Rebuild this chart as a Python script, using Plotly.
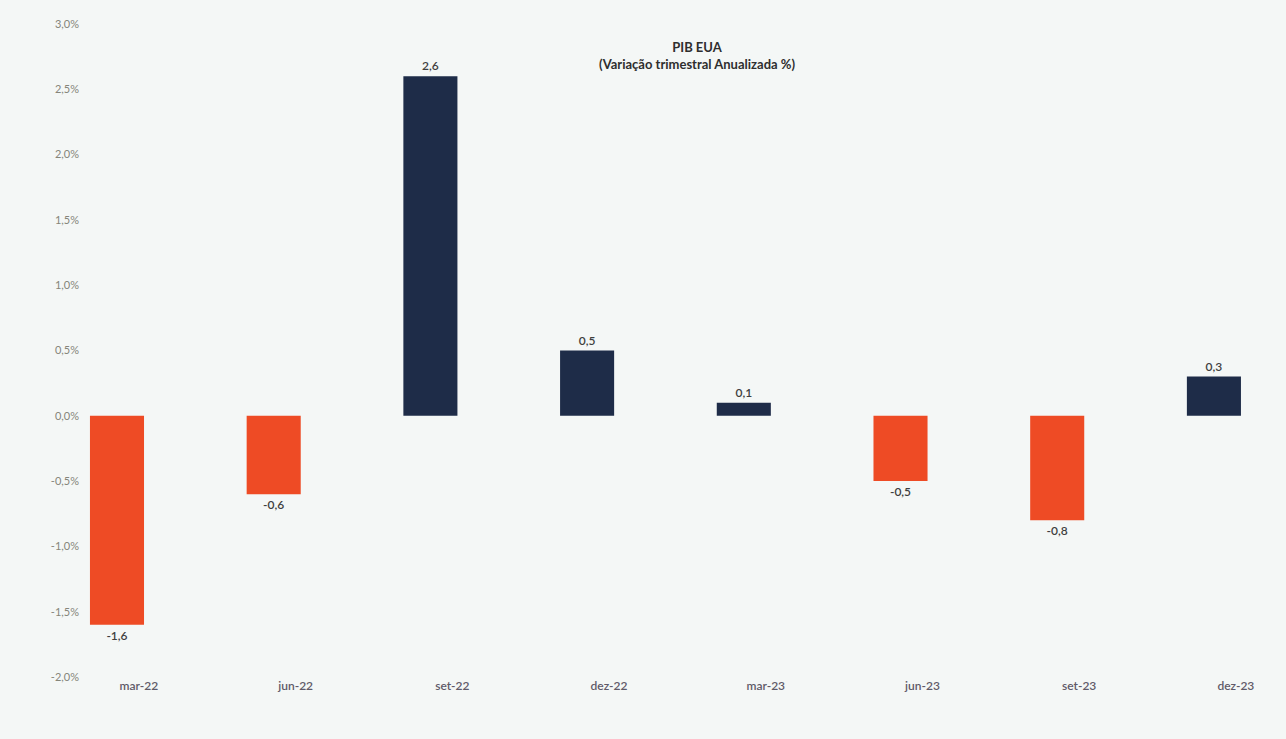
import plotly.graph_objects as go

categories = ["mar-22", "jun-22", "set-22", "dez-22", "mar-23", "jun-23", "set-23", "dez-23"]
values = [-1.6, -0.6, 2.6, 0.5, 0.1, -0.5, -0.8, 0.3]
y_ticks = [-2.0, -1.5, -1.0, -0.5, 0.0, 0.5, 1.0, 1.5, 2.0, 2.5, 3.0]

RED = "#EE4B25"
NAVY = "#1E2C48"
positions = list(range(len(categories)))
colors = [NAVY if v >= 0 else RED for v in values]
labels = [f"{v:.1f}".replace(".", ",") for v in values]
y_ticktext = [f"{v:.1f}%".replace(".", ",") for v in y_ticks]

fig = go.Figure()
fig.add_trace(go.Bar(
    x=positions, y=values, width=0.345,
    marker=dict(color=colors, line=dict(width=0)),
    text=labels, textposition="outside", cliponaxis=False,
    textfont=dict(family="Lato, sans-serif", size=12, color="#3f3f3f", weight=600),
    hoverinfo="skip",
))

fig.update_layout(
    width=1286, height=739,
    paper_bgcolor="#F4F7F6", plot_bgcolor="#F4F7F6",
    margin=dict(l=88, r=0, t=24, b=62),
    showlegend=False,
    font=dict(family="Lato, sans-serif"),
    annotations=[dict(
        text="<b>PIB EUA<br>(Variação trimestral Anualizada %)</b>",
        x=(697 - 88) / 1198, y=1 - (55 - 24) / 653,
        xref="paper", yref="paper", showarrow=False,
        xanchor="center", yanchor="middle",
        font=dict(size=13, color="#2e2e2e"),
    )],
)

fig.update_xaxes(
    range=[-0.185, 7.46],
    tickmode="array",
    tickvals=[p + 0.14 for p in positions],
    ticktext=categories,
    showgrid=False, zeroline=False, showline=False, ticks="",
    tickfont=dict(size=12, color="#5f5a68", weight=600),
)
fig.update_yaxes(
    range=[-2.0, 3.0],
    tickmode="array", tickvals=y_ticks, ticktext=y_ticktext,
    showgrid=False, zeroline=False, showline=False, ticks="",
    ticklabelstandoff=8,
    tickfont=dict(size=11, color="#85857a"),
)

fig.write_html("out.html")
